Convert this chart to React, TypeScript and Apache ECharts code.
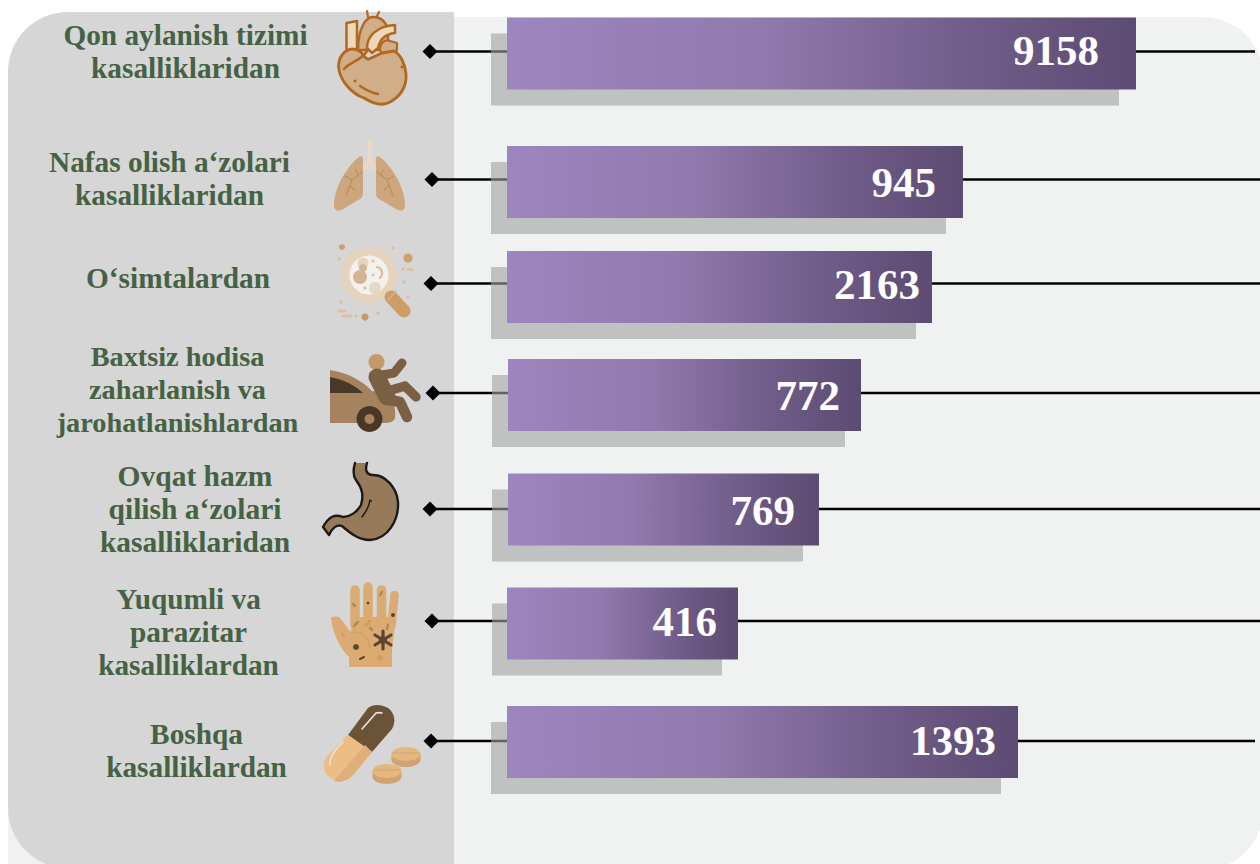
import React, { useEffect, useRef } from "react";
import * as echarts from "echarts";

const categories = [
  "Qon aylanish tizimi\nkasalliklaridan",
  "Nafas olish a‘zolari\nkasalliklaridan",
  "O‘simtalardan",
  "Baxtsiz hodisa\nzaharlanish va\njarohatlanishlardan",
  "Ovqat hazm\nqilish a‘zolari\nkasalliklaridan",
  "Yuqumli va\nparazitar\nkasalliklardan",
  "Boshqa\nkasalliklardan",
];
const valueLabels = ["9158", "945", "2163", "772", "769", "416", "1393"];
// The bars in the picture are not proportional to their labels: these are their drawn lengths.
const barLengths = [629, 456, 425, 353, 311, 231, 511];
const barStarts = [0, 0, 0, 1, 1, 0, 0];
const rowCenters = [53.5, 182, 287, 395, 509.5, 623.5, 742];
const lineRows = [51.5, 179.5, 283.5, 393, 509, 621, 741];
const lineEnds = [1255, 1260, 1260, 1260, 1260, 1260, 1255];
const diamondXs = [430, 432, 431, 433, 430, 432, 431];
const labelInsets = [37, 27, 12, 21, 24, 21, 22];
const labelRows = [50, 182.5, 284, 395, 510, 621, 740];
const catXs = [185.5, 169.5, 178, 177.5, 195, 188.5, 196.5];
const catRows = [51, 178, 278, 389.5, 508.5, 631.5, 750];
const catFonts = [29.3, 29.3, 29.3, 28.3, 29.5, 29.3, 29.3];
const shadowDx = [16, 16, 16, 16, 16, 15, 16];
const shadowTrim = [1, 1, 0, 0, 0, 1, 1];

const BAR_H = 72;
const GRID_LEFT = 507;

let shapeId = 0;
type El = any;
function P(d: string, fill: string | null, stroke?: string, lw?: number): El {
  const name = "rk" + shapeId++;
  echarts.graphic.registerShape(name, echarts.graphic.extendPath(d, {}));
  return {
    type: name,
    silent: true,
    style: {
      fill: fill || "none",
      stroke: stroke || "none",
      lineWidth: lw || 0,
      lineCap: "round",
      lineJoin: "round",
    },
  };
}
const C = (cx: number, cy: number, r: number, fill: string): El => ({
  type: "circle", silent: true, shape: { cx, cy, r }, style: { fill },
});
const E = (cx: number, cy: number, rx: number, ry: number, fill: string): El => ({
  type: "ellipse", silent: true, shape: { cx, cy, rx, ry }, style: { fill },
});
const S = (d: string, stroke: string, lw: number): El => P(d, null, stroke, lw);

function buildIcons(): El[] {
  const hs = "#b3681f", hf = "#cfae88", hl = "#ecd8bd";
  const heart = [
    S("M368 17 L367 11 M376 18 L379 12", hs, 2.2),
    P("M346.5 23 L357 21 L357 49 L346.5 52 Z", hl, hs, 2.5),
    P("M358 50 C358 28 366 17 373 17 C381 17 386 22 388 30 L388 50 Z", hf, hs, 2.5),
    P("M380 50 C380 43 385 39 390 41 L397 43 L397 50 C394 53 388 54 382 54 Z", hf, hs, 2.2),
    P("M367 48 C367 36 377 26 395 25 L395 33 C386 34 380 38 378 48 L372 53 Z", hl, hs, 2.5),
    P("M361 52 C349 44 339 54 338.5 66 C339 80 352 94 364 98 C372 103 381 106 388 103 C399 98 407 88 406 74 C405 63 400 54 394 51 L382 53 L369 59 C366 60 364 56 361 52 Z", hf, hs, 2.8),
    S("M344 69 C352 60 360 62 367 51", hs, 2.5),
    S("M360 86 C366 90 372 93 378 94", hs, 2.5),
    C(355, 81, 1.5, hs),
    C(402, 67, 1.5, hs),
  ];
  const lf = "#cda67e", ll = "#ead8c4", lv = "#bd9260";
  const lungs = [
    P("M361 156 C350 162 334 186 334 205 C334 211 338 212 343 209 L360 199 C363 197 363 195 363 190 L363 160 C363 157 362 156 361 156 Z", lf),
    P("M378 156 C389 162 405 186 405 205 C405 211 401 212 396 209 L379 199 C376 197 376 195 376 190 L376 160 C376 157 377 156 378 156 Z", lf),
    S("M369.5 141 L369.5 160 M369.5 160 L365 168 M369.5 160 L374 168", ll, 4.5),
    S("M362 172 L352 180 L346 196 M352 180 L345 176 M355 190 L350 186 M358 176 L356 170", lv, 1.3),
    S("M377 172 L387 180 L393 196 M387 180 L394 176 M384 190 L389 186 M381 176 L383 170", lv, 1.3),
  ];
  const mb = "#cd9f6f", mp = "#ddbf9d";
  const magnifier = [
    C(369, 275, 28, "#e6d3bd"),
    C(369, 275, 19.5, "#f4f1ec"),
    C(363, 263, 5.5, "#e6d4be"),
    C(360, 277, 7, "#d2b593"),
    C(363, 268, 4, "#d2b593"),
    C(375, 288, 6, "#e6d8c6"),
    S("M377 267 C382 268 384 274 380 278", "#d9bd9a", 2.2),
    C(373, 261, 1.6, "#dcc4a6"),
    C(365, 288, 1.8, "#dcc4a6"),
    C(373, 275, 1.5, "#dcc4a6"),
    S("M391 297 L404 311", "#cd9c67", 13),
    S("M388 300 L396 291", "#dcb17f", 1.5),
    C(342, 247, 3, mb),
    C(408, 258, 4.5, mb),
    C(339, 259, 1.8, mp),
    C(393, 248, 1.8, mp),
    C(403, 269, 1.6, mp),
    S("M408 269.5 L412 269.5", mp, 3),
    C(404, 282, 1.8, mp),
    C(408, 297, 1.8, mp),
    C(341, 302, 1.8, mp),
    C(378, 313, 1.8, mp),
    C(365, 317, 3.6, "#c9985f"),
    C(356, 316, 1.4, mp),
    S("M339 311 L345 311", mp, 3),
    S("M343 316 L351 316", mp, 3),
  ];
  const cb = "#a5835f", cd = "#4a3826", pb = "#7a5f42";
  const car = [
    P("M330 370 C350 373 365 383 372 391 L388 393 C394 400 396 410 395 418 C393 423 388 423 380 423 L330 423 Z", cb),
    P("M330 377 C345 380 356 386 363 393 L330 393 Z", cd),
    C(369.5, 419, 13, cd),
    C(369.5, 419, 5, cb),
    C(376.5, 362, 8, "#c49a6c"),
    S("M377 377 L387 397", pb, 17),
    S("M376 376 L394 373 L402 363", pb, 9),
    S("M388 391 L405 386 L416 397", pb, 9.5),
    S("M390 400 L400 402 L407 417", pb, 10.5),
  ];
  const so = "#1c1a18", sf = "#977a59";
  const stomach = [
    P("M355 463 C353 470 353 476 356 480 C362 488 364 495 361 505 C357 512 350 517 343 517 C335 514 329 516 323 527 L329 535 C332 528 337 524 342 526 C349 532 358 540 370 540 C388 539 399 520 398 502 C397 488 385 474 372 475 C366 474 365 470 367 463", sf, so, 2.4),
    S("M370 500 C369 507 366 512 362 517", so, 1.5),
    C(371, 501, 0.9, so),
  ];
  const hf2 = "#dcab71", hd = "#5c4630", hm = "#b08a5c";
  const hand = [
    S("M355 590 L355 625 M368 587 L368 625 M381.5 590 L381.5 625", hf2, 9.5),
    S("M394.5 595 L391.5 625", hf2, 8.5),
    P("M331 619 C330 617 336 615 340 618 C344 622 347 628 351 632 L351 617 L396 617 L392 650 L392 667 L349 667 L349 657 C340 648 333 634 331 619 Z", hf2),
    S("M351 633 C362 630 369 636 370 650", "#d3a268", 1.6),
    S("M383 631 L383 649 M375 635 L391 645 M375 645 L391 635", hd, 3.2),
    C(383, 640, 4, hd),
    C(356, 647, 3, hd),
    C(393, 615, 2, hd),
    C(368, 603, 1.3, hd),
    S("M353 604 L355 606", hm, 2.5),
    S("M382 592 L380 595", hm, 2.5),
    S("M354 626 L358 622", hm, 2.5),
    S("M366 625 L370 621", "#c99a62", 2.5),
    S("M370 628 L372 630", hm, 2.5),
    S("M388 625 L387 629", hm, 2.5),
    S("M360 659 L364 657", hd, 2),
    C(380, 658, 3, "#cc9e68"),
    C(365, 625, 1, "#cc9e68"),
    S("M342 634 L344 636", "#cc9e68", 2.5),
  ];
  const pd = "#6b5338", pl = "#ecbd85", ps = "#e0ae78", tt = "#e6b67f", ts = "#cfa473";
  const pill = [
    P("M348 735 L368 708 C373 704 381 704 388 708 C395 713 396 722 392 729 L372 752 Z", pd),
    P("M348 735 L372 752 L352 776 C345 783 335 782 328 776 C322 770 323 760 328 755 Z", pl),
    P("M372 752 L352 776 C345 783 338 782 334 781 L365 745 Z", ps),
    S("M362 729 L376 713 C379 712 381 713 382 713", "#ece6df", 1.6),
    S("M343 742 C335 750 329 757 330 765", "#f3e3cc", 1.6),
    E(406, 760, 14.5, 7, ts),
    { type: "rect", silent: true, shape: { x: 391.5, y: 754, width: 29, height: 6 }, style: { fill: ts } },
    E(406, 754, 14.5, 7, tt),
    S("M393 753 L419 753", "#cfa473", 1.2),
    E(387, 777, 14.5, 7, ts),
    { type: "rect", silent: true, shape: { x: 372.5, y: 771, width: 29, height: 6 }, style: { fill: ts } },
    E(387, 771, 14.5, 7, tt),
    S("M374 770 L400 770", "#cfa473", 1.2),
  ];
  return [...heart, ...lungs, ...magnifier, ...car, ...stomach, ...hand, ...pill];
}

export default function App() {
  const ref = useRef<HTMLDivElement>(null);
  useEffect(() => {
    if (!ref.current) return;
    const chart = echarts.init(ref.current, undefined, { renderer: "svg" });
    const rows = barLengths.map((len, i) => [barStarts[i], barStarts[i] + len, rowCenters[i], i]);
    const serifBold = "'Liberation Serif', 'Times New Roman', serif";
    const option: any = {
      animation: false,
      backgroundColor: "#ffffff",
      grid: { left: GRID_LEFT, right: 0, top: 0, bottom: 0 },
      xAxis: { type: "value", min: 0, max: 1260 - GRID_LEFT, show: false },
      yAxis: { type: "value", min: 0, max: 864, inverse: true, show: false },
      graphic: {
        elements: [
          { type: "rect", silent: true, z: -3, shape: { x: 8, y: 17, width: 1255, height: 853, r: [60, 60, 60, 0] }, style: { fill: "#f0f2f2" } },
          { type: "rect", silent: true, z: -2, shape: { x: 8, y: 12, width: 446, height: 856, r: [60, 0, 0, 60] }, style: { fill: "#d6d6d6" } },
          { type: "rect", silent: true, z: -2, shape: { x: 400, y: 12, width: 54, height: 852 }, style: { fill: "#d6d6d6" } },
          ...categories.map((c, i) => ({
            type: "text",
            silent: true,
            z: 1,
            x: catXs[i],
            y: catRows[i],
            style: {
              text: c,
              fill: "#456244",
              font: `bold ${catFonts[i]}px ${serifBold}`,
              lineHeight: 33,
              align: "center",
              verticalAlign: "middle",
            },
          })),
          ...buildIcons().map((e) => ({ ...e, z: 1 })),
        ],
      },
      series: [
        {
          type: "custom",
          name: "connector",
          silent: true,
          clip: false,
          z: 2,
          data: rows,
          renderItem: (_p: any, api: any) => {
            const i = api.value(3);
            const y = lineRows[i];
            const dx = diamondXs[i];
            return {
              type: "group",
              children: [
                { type: "line", shape: { x1: dx, y1: y, x2: lineEnds[i], y2: y }, style: { stroke: "#000", lineWidth: 2.4 } },
                { type: "polygon", shape: { points: [[dx - 7.5, y], [dx, y - 7.5], [dx + 7.5, y], [dx, y + 7.5]] }, style: { fill: "#000" } },
              ],
            };
          },
        },
        {
          type: "custom",
          name: "shadow",
          silent: true,
          clip: false,
          z: 3,
          data: rows,
          renderItem: (_p: any, api: any) => {
            const a = api.coord([api.value(0), api.value(2)]);
            const b = api.coord([api.value(1), api.value(2)]);
            const i = api.value(3);
            return {
              type: "rect",
              shape: { x: a[0] - shadowDx[i], y: a[1] - BAR_H / 2 + 16, width: b[0] - a[0] - shadowTrim[i], height: BAR_H },
              style: { fill: "rgba(160,162,160,0.6)" },
            };
          },
        },
        {
          type: "custom",
          name: "bars",
          silent: true,
          clip: false,
          z: 4,
          data: rows,
          renderItem: (_p: any, api: any) => {
            const a = api.coord([api.value(0), api.value(2)]);
            const b = api.coord([api.value(1), api.value(2)]);
            const i = api.value(3);
            return {
              type: "group",
              children: [
                {
                  type: "rect",
                  shape: { x: a[0], y: a[1] - BAR_H / 2, width: b[0] - a[0], height: BAR_H },
                  style: {
                    fill: new echarts.graphic.LinearGradient(0, 0, 1, 0, [
                      { offset: 0, color: "#9d85bf" },
                      { offset: 0.4, color: "#917aad" },
                      { offset: 0.75, color: "#6f5c88" },
                      { offset: 1, color: "#5c4b72" },
                    ]),
                  },
                },
                {
                  type: "text",
                  x: b[0] - labelInsets[i],
                  y: labelRows[i],
                  style: {
                    text: valueLabels[i],
                    fill: "#ffffff",
                    font: `bold 43px ${serifBold}`,
                    align: "right",
                    verticalAlign: "middle",
                  },
                },
              ],
            };
          },
        },
      ],
    };
    chart.setOption(option);
    return () => chart.dispose();
  }, []);
  return (
    <div
      ref={ref}
      style={{ position: "absolute", left: 0, top: 0, width: 1260, height: 864, overflow: "hidden" }}
    />
  );
}
